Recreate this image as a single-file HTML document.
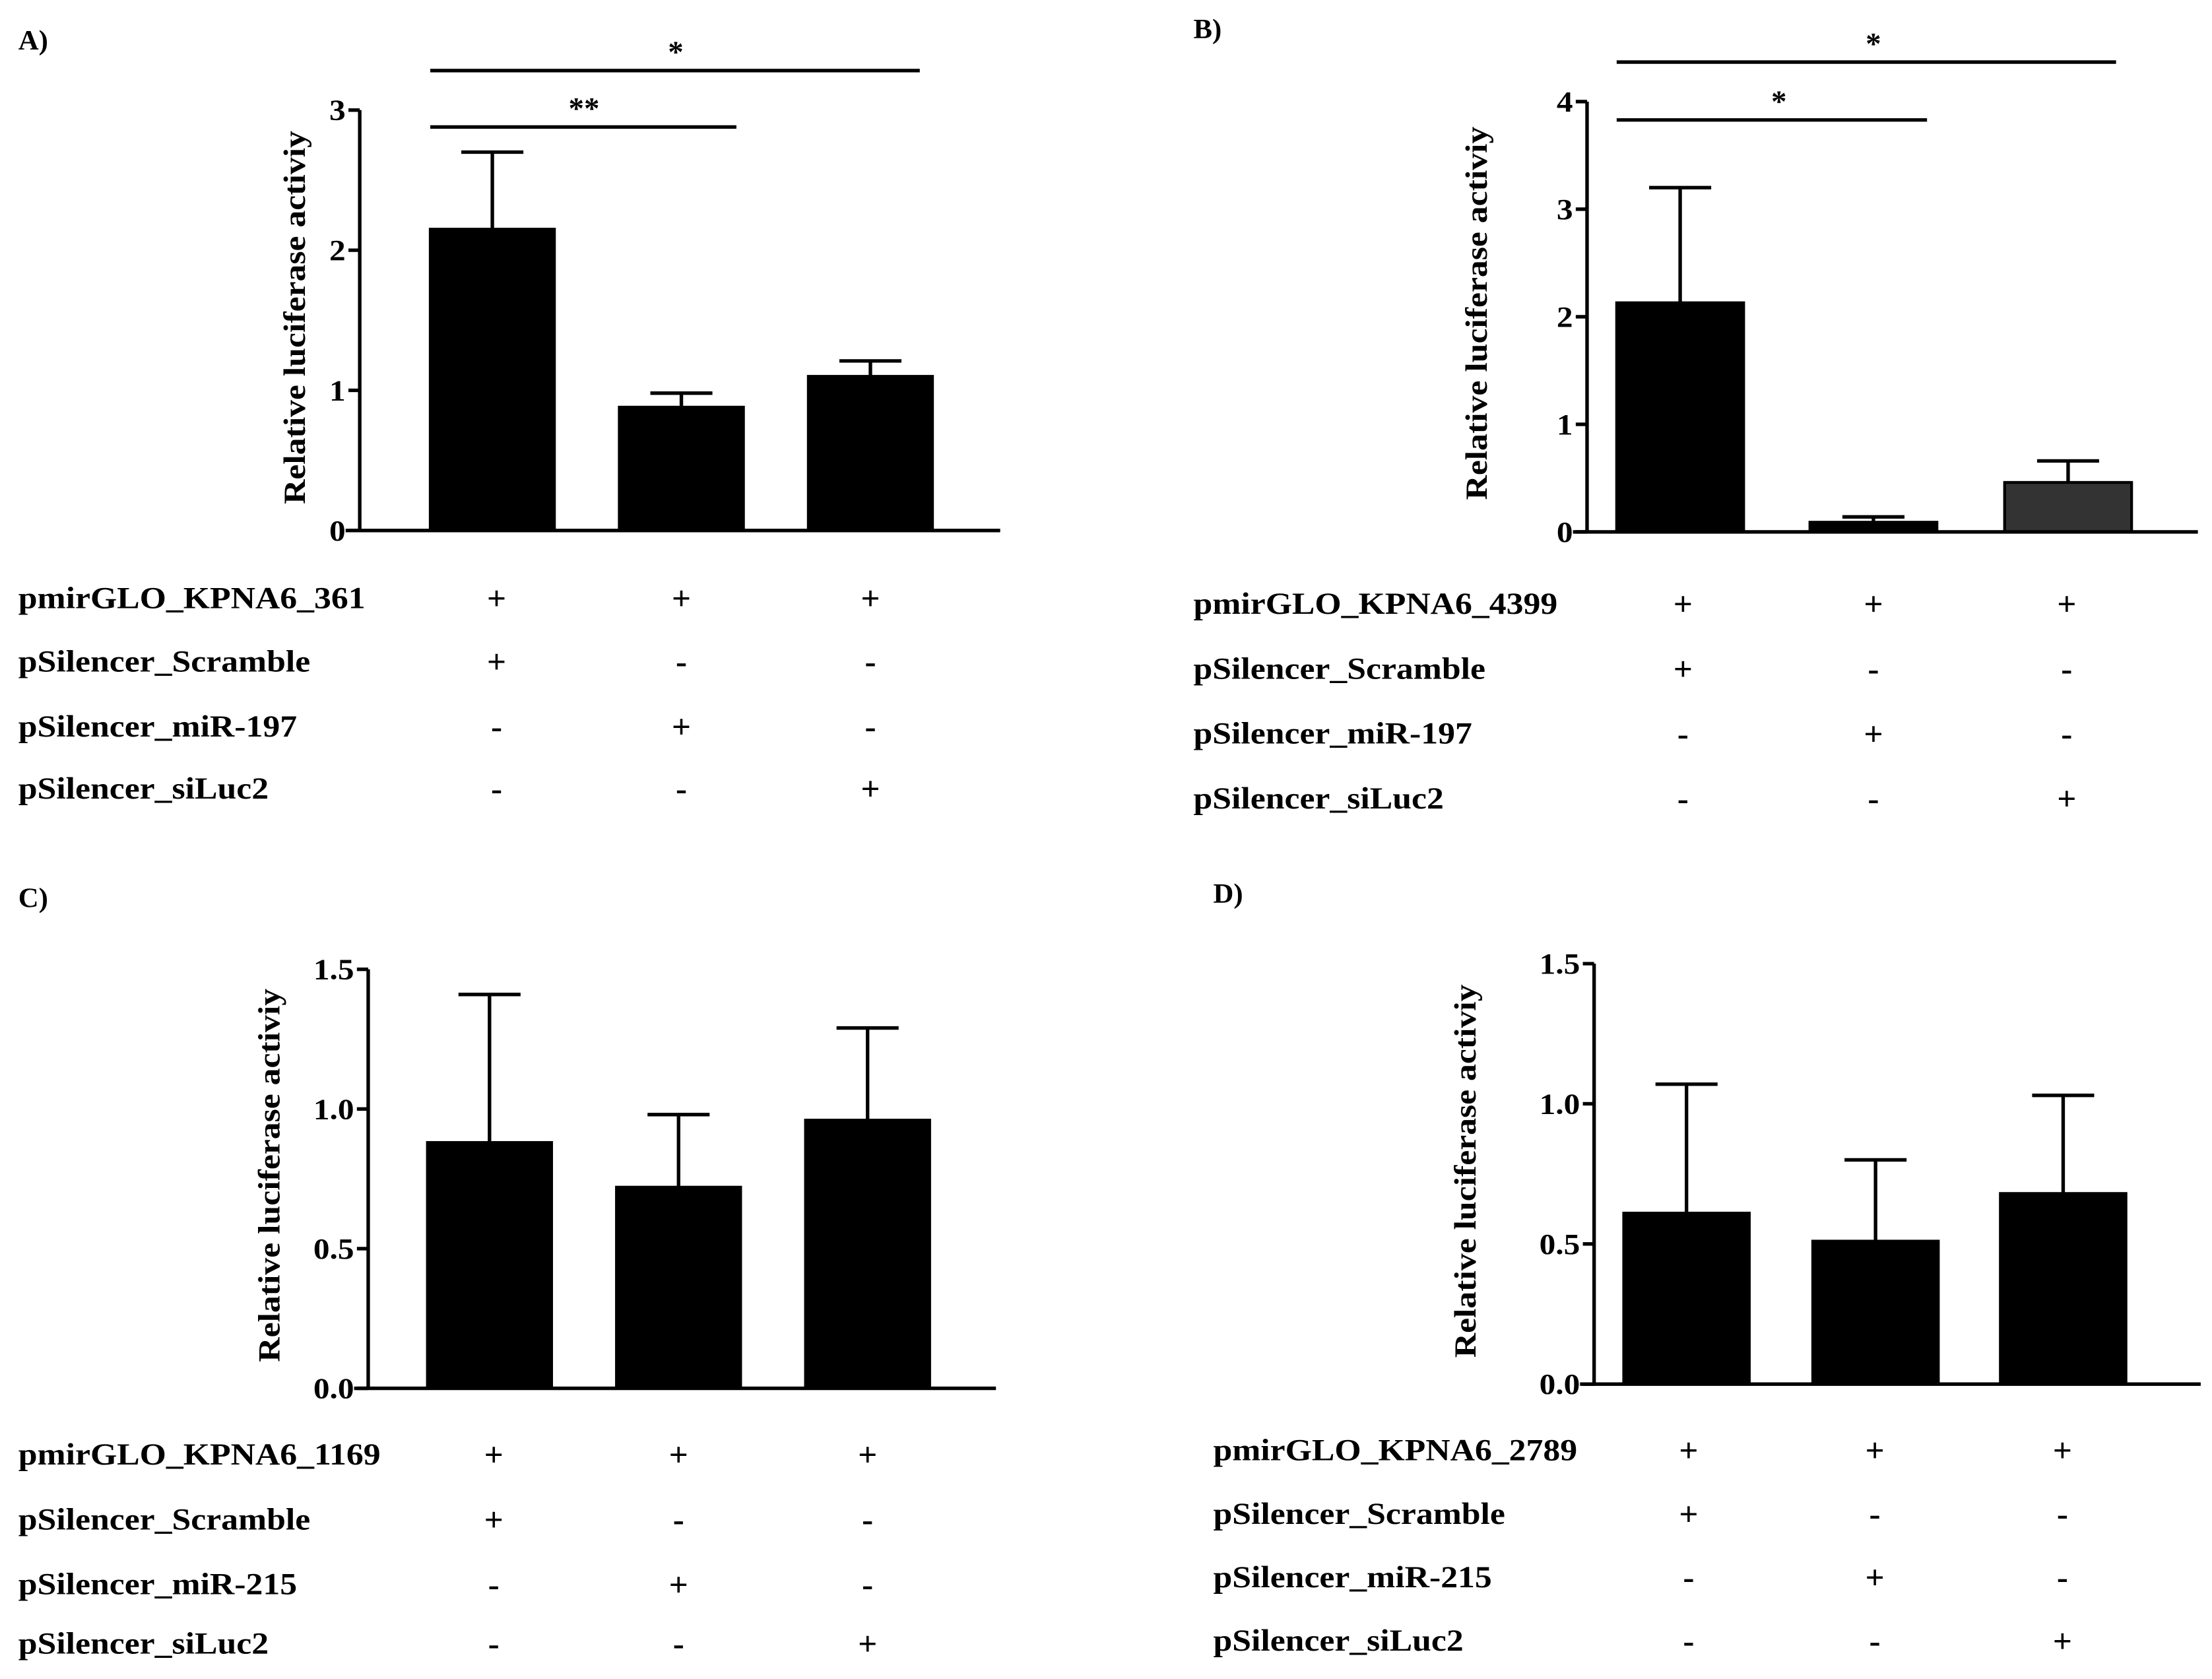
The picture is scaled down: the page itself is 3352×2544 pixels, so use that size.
<!DOCTYPE html>
<html><head><meta charset="utf-8"><style>
html,body{margin:0;padding:0;background:#fff}
svg{display:block}
text{font-family:"Liberation Serif",serif;font-weight:bold;fill:#000}
</style></head><body>
<svg id="fig" width="3352" height="2544" viewBox="0 0 1568 1190" xmlns="http://www.w3.org/2000/svg"></svg>
<script>
// Panel data
const panelLabels = ["A)", "B)", "C)", "D)"];
const rowNamesA = ["pmirGLO_KPNA6_361", "pSilencer_Scramble", "pSilencer_miR-197", "pSilencer_siLuc2"];
const rowNamesB = ["pmirGLO_KPNA6_4399", "pSilencer_Scramble", "pSilencer_miR-197", "pSilencer_siLuc2"];
const rowNamesC = ["pmirGLO_KPNA6_1169", "pSilencer_Scramble", "pSilencer_miR-215", "pSilencer_siLuc2"];
const rowNamesD = ["pmirGLO_KPNA6_2789", "pSilencer_Scramble", "pSilencer_miR-215", "pSilencer_siLuc2"];
const signs = [["+","+","+"],["+","-","-"],["-","+","-"],["-","-","+"]];
const valuesA = [2.15, 0.88, 1.10];
const errorsA = [2.70, 0.98, 1.21];
const valuesB = [2.13, 0.09, 0.46];
const errorsB = [3.20, 0.14, 0.66];
const valuesC = [0.88, 0.72, 0.96];
const errorsC = [1.41, 0.98, 1.29];
const valuesD = [0.61, 0.51, 0.68];
const errorsD = [1.07, 0.80, 1.03];
const ticksA = ["0","1","2","3"];
const ticksB = ["0","1","2","3","4"];
const ticksCD = ["0.0","0.5","1.0","1.5"];

const svg = document.getElementById('fig');
const NS = "http://www.w3.org/2000/svg";
function mk(tag, attrs, parent){
  const e = document.createElementNS(NS, tag);
  for (const k in attrs) e.setAttribute(k, attrs[k]);
  (parent||svg).appendChild(e);
  return e;
}
function stretch(t, f){
  const len = t.getComputedTextLength();
  if (len > 0) { t.setAttribute('textLength', len * f); t.setAttribute('lengthAdjust', 'spacingAndGlyphs'); }
}

function panel(cfg){
  const g = mk('g', {});
  
  
  const y = v => cfg.y0 - (v / cfg.ymax) * (cfg.y0 - cfg.ytop);
  const pl = mk('text', {x: cfg.lx, y: cfg.ly, 'font-size': 20}, g);
  pl.textContent = cfg.label;
  
  
  cfg.values.forEach((v, i) => {
    const x0 = cfg.barX[i];
    const r = mk('rect', {x: x0, y: y(v), width: cfg.bw, height: cfg.y0 - y(v), fill: cfg.fills[i], stroke: '#000', 'stroke-width': 2}, g);
    
    
    const cx = x0 + cfg.bw/2;
    const e = mk('path', {d: `M${cx},${y(v)}V${y(cfg.errors[i])}M${cx-22},${y(cfg.errors[i])}H${cx+22}`, stroke: '#000', 'stroke-width': 2.5, fill: 'none'}, g);
    
    
  });
  const ax = mk('path', {d: `M${cfg.ax},${cfg.ytop}V${cfg.y0}M${cfg.ax-10},${cfg.y0}H${cfg.xend}`, stroke: '#000', 'stroke-width': 2.5, fill: 'none'}, g);
  
  
  cfg.ticks.forEach(t => {
    const v = parseFloat(t);
    const tk = mk('path', {d: `M${cfg.ax-8},${y(v)}H${cfg.ax}`, stroke: '#000', 'stroke-width': 2.5}, g);
    
    
    const tl = mk('text', {x: cfg.ax - 10, y: y(v) + 7, 'font-size': 21, 'text-anchor': 'end'}, g);
    tl.textContent = t;
    
    
    stretch(tl, 1.1);
  });
  const yl = mk('text', {x: 0, y: 0, 'font-size': 22, 'text-anchor': 'middle', transform: `translate(${cfg.ylx},${cfg.yly}) rotate(-90)`}, g);
  yl.textContent = 'Relative luciferase activiy';
  
  
  stretch(yl, 1.1);
  (cfg.sig || []).forEach(s => {
    const l = mk('path', {d: `M${s.x1},${s.y}H${s.x2}`, stroke: '#000', 'stroke-width': 2.5}, g);
    
    
    const st = mk('text', {x: s.tx, y: s.y - 6, 'font-size': 22, 'text-anchor': 'middle'}, g);
    st.textContent = s.t;
    
    
  });
  cfg.rows.forEach((name, r) => {
    const ry = cfg.rowY[r];
    const tn = mk('text', {x: cfg.lx, y: ry + 7, 'font-size': 22}, g);
    tn.textContent = name;
    
    
    stretch(tn, 1.1);
    signs[r].forEach((s, c) => {
      const ts = mk('text', {x: cfg.signX[c], y: ry + 8, 'font-size': 24, 'text-anchor': 'middle'}, g);
      ts.textContent = s;
      
      
    });
  });
}

panel({id:'a', label: panelLabels[0], lx: 13, ly: 35, values: valuesA, errors: errorsA, ymax: 3, ticks: ticksA,
  ax: 255, y0: 376, ytop: 78, xend: 709, bw: 88, barX: [305, 439, 573], fills: ['#000','#000','#000'],
  ylx: 216, yly: 225, rows: rowNamesA, rowY: [424, 469, 515, 559], signX: [352, 483, 617],
  sig: [{x1: 305, x2: 652, y: 50, tx: 479, t: '*'}, {x1: 305, x2: 522, y: 90, tx: 414, t: '**'}]});
panel({id:'b', label: panelLabels[1], lx: 846, ly: 27, values: valuesB, errors: errorsB, ymax: 4, ticks: ticksB,
  ax: 1125, y0: 377, ytop: 72, xend: 1558, bw: 90, barX: [1146, 1283, 1421], fills: ['#000','#000','#333'],
  ylx: 1054, yly: 222, rows: rowNamesB, rowY: [428, 474, 520, 566], signX: [1193, 1328, 1465],
  sig: [{x1: 1146, x2: 1500, y: 44, tx: 1328, t: '*'}, {x1: 1146, x2: 1366, y: 85, tx: 1261, t: '*'}]});
panel({id:'c', label: panelLabels[2], lx: 13, ly: 643, values: valuesC, errors: errorsC, ymax: 1.5, ticks: ticksCD,
  ax: 261, y0: 984, ytop: 687, xend: 706, bw: 88, barX: [303, 437, 571], fills: ['#000','#000','#000'],
  ylx: 198, yly: 833, rows: rowNamesC, rowY: [1031, 1077, 1123, 1165], signX: [350, 481, 615]});
panel({id:'d', label: panelLabels[3], lx: 860, ly: 640, values: valuesD, errors: errorsD, ymax: 1.5, ticks: ticksCD,
  ax: 1130, y0: 981, ytop: 683, xend: 1560, bw: 89, barX: [1151, 1285, 1418], fills: ['#000','#000','#000'],
  ylx: 1046, yly: 830, rows: rowNamesD, rowY: [1028, 1073, 1118, 1163], signX: [1197, 1329, 1462]});
</script>
</body></html>
